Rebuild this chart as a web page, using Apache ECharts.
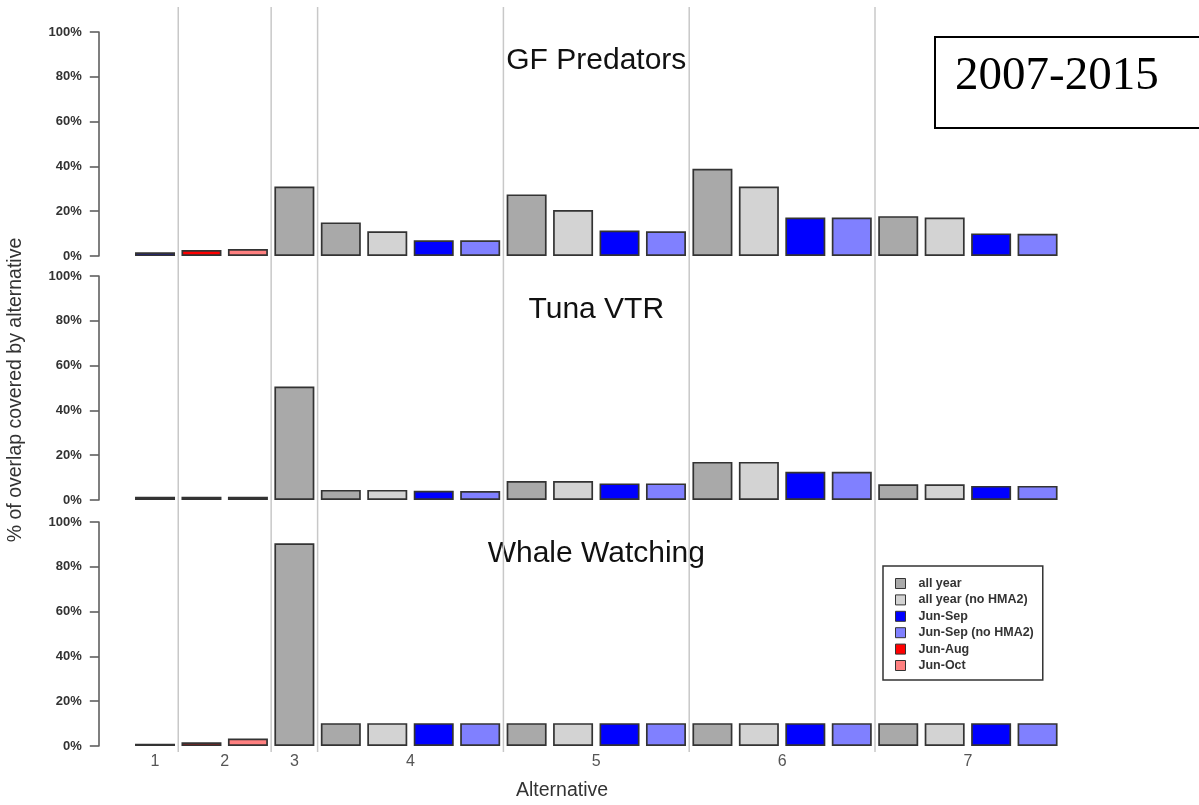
<!DOCTYPE html>
<html>
<head>
<meta charset="utf-8">
<title>Overlap covered by alternative, 2007-2015</title>
<script src="https://cdn.jsdelivr.net/npm/echarts@6/dist/echarts.min.js"></script>
<style>
  html, body { margin: 0; padding: 0; background: #fff; }
  #chart { width: 1199px; height: 805px; }
</style>
</head>
<body>
<div id="chart"></div>
<script>
// Alternatives along the x axis and the seasonal closure options drawn for each
const alternatives = ['1', '2', '3', '4', '5', '6', '7'];
const altOptions = [
  ['Jun-Sep'],
  ['Jun-Aug', 'Jun-Oct'],
  ['all year'],
  ['all year', 'all year (no HMA2)', 'Jun-Sep', 'Jun-Sep (no HMA2)'],
  ['all year', 'all year (no HMA2)', 'Jun-Sep', 'Jun-Sep (no HMA2)'],
  ['all year', 'all year (no HMA2)', 'Jun-Sep', 'Jun-Sep (no HMA2)'],
  ['all year', 'all year (no HMA2)', 'Jun-Sep', 'Jun-Sep (no HMA2)']
];

// Legend order
const optionNames = ['all year', 'all year (no HMA2)', 'Jun-Sep', 'Jun-Sep (no HMA2)', 'Jun-Aug', 'Jun-Oct'];
const optionColors = ['#A9A9A9', '#D3D3D3', '#0000FF', '#8080FF', '#FF0000', '#FF8080'];

// Panel titles
const panelTitles = ['GF Predators', 'Tuna VTR', 'Whale Watching'];

// % of overlap covered, one value per bar (bars in order of altOptions)
const gfPredators = [1.7, 2.7, 3.1, 31.0, 15.0, 11.0, 7.0, 7.0, 27.5, 20.5, 11.4, 11.0, 38.9, 31.0, 17.2, 17.2, 17.8, 17.2, 10.1, 9.9];
const tunaVTR     = [1.5, 1.5, 1.5, 50.7, 4.5, 4.5, 4.1, 4.0, 8.5, 8.5, 7.4, 7.4, 17.0, 17.0, 12.6, 12.6, 7.0, 7.0, 6.3, 6.3];
const whaleWatch  = [1.0, 1.7, 3.3, 90.5, 10.2, 10.2, 10.2, 10.2, 10.2, 10.2, 10.2, 10.2, 10.2, 10.2, 10.2, 10.2, 10.2, 10.2, 10.2, 10.2];
const panelValues = [gfPredators, tunaVTR, whaleWatch];

// y tick labels
const yTicks = ['0%', '20%', '40%', '60%', '80%', '100%'];

const yearLabel = '2007-2015';
const yTitle = '% of overlap covered by alternative';
const xTitle = 'Alternative';

// ---- derived layout helpers ----
const barOptions = altOptions.flat();           // option name for each bar
const nBars = barOptions.length;
const bands = [];                               // [start, end] bar index per alternative
let cursor = 0;
altOptions.forEach(list => { bands.push([cursor, cursor + list.length]); cursor += list.length; });
const altCenters = bands.map(b => (b[0] + b[1]) / 2);      // in bar units
const separators = bands.slice(0, -1).map(b => [b[1], 0]); // boundaries between alternatives

const GRID_LEFT = 131.8;
const GRID_WIDTH = 929;
const PANEL_TOPS = [32, 276, 522];
const PANEL_H = 224;
const FONT = '"Liberation Sans", Arial, sans-serif';

const grids = [];
const xAxes = [];
const yAxes = [];
const series = [];

PANEL_TOPS.forEach((top, p) => {
  grids.push({ left: GRID_LEFT, top: top, width: GRID_WIDTH, height: PANEL_H });
  xAxes.push({
    type: 'category', gridIndex: p, data: barOptions.map((_, i) => String(i)),
    axisLine: { show: false }, axisTick: { show: false }, axisLabel: { show: false },
    splitLine: { show: false }
  });
  yAxes.push({
    type: 'value', gridIndex: p, min: 0, max: 100, interval: 20, offset: 33,
    axisLine: { show: true, lineStyle: { color: '#555', width: 1.5 } },
    axisTick: { show: true, length: 9, lineStyle: { color: '#555', width: 1.5 } },
    axisLabel: {
      margin: 17, color: '#333', fontSize: 13, fontWeight: 'bold', fontFamily: FONT,
      formatter: v => yTicks[Math.round(v / 20)]
    },
    splitLine: { show: false }
  });
  optionNames.forEach((name, g) => {
    series.push({
      name: name, type: 'bar', xAxisIndex: p, yAxisIndex: p, stack: 'panel' + p,
      barWidth: 40,
      itemStyle: { color: optionColors[g], borderColor: '#333', borderWidth: 1.7 },
      emphasis: { disabled: true },
      data: panelValues[p].map((v, i) => (barOptions[i] === name ? v : '-'))
    });
  });
});

// Overlay grid spanning all three panels: separators and alternative labels
grids.push({ left: GRID_LEFT, top: 7, width: GRID_WIDTH, height: 745 });
xAxes.push({
  type: 'value', gridIndex: 3, min: 0, max: nBars, interval: 0.5,
  axisLine: { show: false }, axisTick: { show: false }, splitLine: { show: false },
  axisLabel: {
    margin: 2, color: '#555', fontSize: 16, fontFamily: FONT,
    showMinLabel: true, showMaxLabel: true,
    formatter: v => {
      const k = altCenters.findIndex(c => Math.abs(c - v) < 1e-6);
      return k >= 0 ? alternatives[k] : '';
    }
  }
});
yAxes.push({ type: 'value', gridIndex: 3, min: 0, max: 1, show: false });
series.push({
  type: 'custom', xAxisIndex: 3, yAxisIndex: 3, silent: true, z: 1,
  data: separators,
  renderItem: (params, api) => {
    const cs = params.coordSys;
    const x = api.coord([api.value(0), 0])[0];
    return {
      type: 'line',
      shape: { x1: x, y1: cs.y, x2: x, y2: cs.y + cs.height },
      style: { stroke: '#c8c8c8', lineWidth: 1.5 }
    };
  }
});

const titleY = [61, 310, 554];
const graphics = panelTitles.map((t, p) => ({
  type: 'text', x: GRID_LEFT + GRID_WIDTH / 2, y: titleY[p],
  style: { text: t, font: '30px ' + FONT, fill: '#111', textAlign: 'center', textVerticalAlign: 'middle' }
}));
graphics.push(
  {
    type: 'text', x: 16, y: 390, rotation: Math.PI / 2,
    style: { text: yTitle, font: '19.5px ' + FONT, fill: '#333', textAlign: 'center', textVerticalAlign: 'middle' }
  },
  {
    type: 'text', x: 562, y: 791,
    style: { text: xTitle, font: '19.5px ' + FONT, fill: '#333', textAlign: 'center', textVerticalAlign: 'middle' }
  },
  {
    type: 'rect', shape: { x: 935, y: 37, width: 280, height: 91 },
    style: { fill: '#fff', stroke: '#000', lineWidth: 2 }
  },
  {
    type: 'text', x: 955, y: 77,
    style: { text: yearLabel, font: '47px "Liberation Serif", "Times New Roman", serif', fill: '#000', textAlign: 'left', textVerticalAlign: 'middle' }
  }
);

const chart = echarts.init(document.getElementById('chart'), null, { renderer: 'canvas' });
chart.setOption({
  animation: false,
  backgroundColor: '#fff',
  grid: grids,
  xAxis: xAxes,
  yAxis: yAxes,
  series: series,
  legend: {
    data: optionNames,
    orient: 'vertical', left: 883, top: 566,
    icon: 'rect', itemWidth: 10, itemHeight: 10, itemGap: 3.4,
    padding: [11, 9, 8, 12],
    borderColor: '#333', borderWidth: 1.5,
    itemStyle: { borderColor: '#333', borderWidth: 1 },
    textStyle: { fontSize: 12.5, fontWeight: 'bold', color: '#333', fontFamily: FONT, lineHeight: 12, padding: [0, 0, 0, 8] },
    selectedMode: false
  },
  graphic: graphics
});
</script>
</body>
</html>
